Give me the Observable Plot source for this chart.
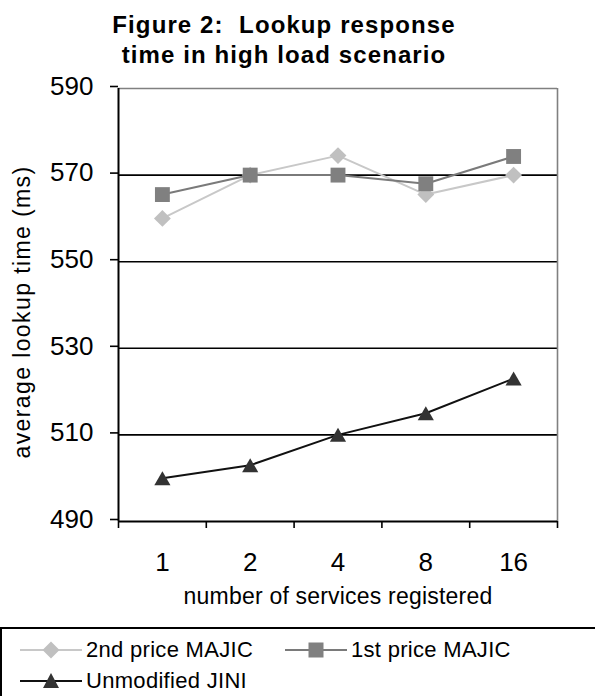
<!DOCTYPE html>
<html>
<head>
<meta charset="utf-8">
<script src="https://cdn.jsdelivr.net/npm/d3@7"></script>
<script src="https://cdn.jsdelivr.net/npm/@observablehq/plot@0.6"></script>
<style>
  html, body { margin: 0; padding: 0; background: #fff; }
  #wrap { position: relative; width: 595px; height: 696px; overflow: hidden; background: #fff;
          font-family: "Liberation Sans", Arial, sans-serif; color: #000; }
  #title { position: absolute; top: 10px; left: 0; width: 568px; text-align: center;
           font-weight: bold; font-size: 24px; line-height: 30px; letter-spacing: 1.1px; white-space: pre; }
  #chart { position: absolute; top: 0; left: 0; }
  #xlabel { position: absolute; top: 583px; left: 0; width: 676px; text-align: center;
            font-size: 23px; line-height: 26px; letter-spacing: 0.2px; white-space: pre; }
  #ylabel { position: absolute; left: 22px; top: 312px; transform: translate(-50%, -50%) rotate(-90deg);
            font-size: 23px; line-height: 26px; letter-spacing: 1.4px; white-space: pre; }
  #legend { position: absolute; top: 627px; left: 0; width: 610px; height: 90px;
            border-top: 2px solid #000; border-left: 2px solid #000; box-sizing: border-box; }
  .entry { position: absolute; display: flex; align-items: center; font-size: 22px; letter-spacing: 0.3px; white-space: pre; }
  .entry svg { margin-right: 4px; }
</style>
</head>
<body>
<div id="wrap">
  <div id="title">Figure 2:  Lookup response
time in high load scenario</div>
  <div id="chart"></div>
  <div id="xlabel"></div>
  <div id="ylabel"></div>
  <div id="legend"></div>
</div>
<script>
// ---- data ----
const services = ["1", "2", "4", "8", "16"];
const secondPrice = [560, 570, 574.5, 565.5, 570];
const firstPrice = [565.5, 570, 570, 568, 574.3];
const unmodifiedJini = [500, 503, 510, 515, 523];
const yTicks = [490, 510, 530, 550, 570, 590];
const seriesNames = ["2nd price MAJIC", "1st price MAJIC", "Unmodified JINI"];
const xTitle = "number of services registered";
const yTitle = "average lookup time (ms)";

const colors = { second: "#c0c0c0", secondLine: "#c8c8c8", first: "#808080", firstLine: "#7a7a7a", jini: "#333333", jiniLine: "#111111" };

const toRows = (vals) => services.map((s, i) => ({ i: i + 0.5, s, v: vals[i] }));
const rows2 = toRows(secondPrice);
const rows1 = toRows(firstPrice);
const rowsJ = toRows(unmodifiedJini);

const chart = Plot.plot({
  width: 595,
  height: 625,
  marginTop: 88,
  marginBottom: 104,
  marginLeft: 118,
  marginRight: 38,
  x: { domain: [0, services.length] },
  y: { domain: [490, 590] },
  style: { fontFamily: "'Liberation Sans', Arial, sans-serif", fontSize: "26px", color: "#000", background: "transparent" },
  marks: [
    Plot.ruleY(yTicks.slice(1, -1), { stroke: "#000", strokeWidth: 1.6 }),
    Plot.ruleY([590], { stroke: "#808080", strokeWidth: 1.6 }),
    Plot.ruleX([services.length], { stroke: "#808080", strokeWidth: 1.6 }),
    Plot.ruleX([0], { stroke: "#000", strokeWidth: 2 }),
    Plot.ruleY([490], { stroke: "#000", strokeWidth: 2 }),
    Plot.axisY({ ticks: yTicks, tickSize: 8, tickPadding: 17, label: null, fontSize: 26, strokeWidth: 1.6, dy: -2 }),
    Plot.axisX({ ticks: d3.range(services.length + 1), tickSize: 7, tickFormat: () => "", label: null, strokeWidth: 1.6 }),
    Plot.axisX({ ticks: services.map((s, i) => i + 0.5), tickSize: 0, tickPadding: 31, tickFormat: (d) => services[Math.floor(d)], label: null, fontSize: 26 }),
    Plot.line(rows2, { x: "i", y: "v", stroke: colors.secondLine, strokeWidth: 2 }),
    Plot.dot(rows2, { x: "i", y: "v", symbol: "diamond2", r: 7.6, fill: colors.second, stroke: "none" }),
    Plot.line(rows1, { x: "i", y: "v", stroke: colors.firstLine, strokeWidth: 2 }),
    Plot.dot(rows1, { x: "i", y: "v", symbol: "square", r: 8.4, fill: colors.first, stroke: "none" }),
    Plot.line(rowsJ, { x: "i", y: "v", stroke: colors.jiniLine, strokeWidth: 2 }),
    Plot.dot(rowsJ, { x: "i", y: "v", symbol: "triangle", r: 6, fill: colors.jini, stroke: "none", dy: 2.3 })
  ]
});
document.getElementById("chart").appendChild(chart);
document.getElementById("xlabel").textContent = xTitle;
document.getElementById("ylabel").textContent = yTitle;

// ---- legend ----
function swatch(kind) {
  const w = 62, h = 22, cy = h / 2;
  let line, marker;
  if (kind === 0) {
    line = `<line x1="0" x2="${w}" y1="${cy}" y2="${cy}" stroke="${colors.secondLine}" stroke-width="2"/>`;
    marker = `<path d="M31,${cy - 8.5}L39.5,${cy}L31,${cy + 8.5}L22.5,${cy}Z" fill="${colors.second}"/>`;
  } else if (kind === 1) {
    line = `<line x1="0" x2="${w}" y1="${cy}" y2="${cy}" stroke="${colors.firstLine}" stroke-width="2"/>`;
    marker = `<rect x="23.5" y="${cy - 7.5}" width="15" height="15" fill="${colors.first}"/>`;
  } else {
    line = `<line x1="0" x2="${w}" y1="${cy}" y2="${cy}" stroke="${colors.jiniLine}" stroke-width="2"/>`;
    marker = `<path d="M31,${cy - 8}L39,${cy + 7}L23,${cy + 7}Z" fill="${colors.jini}"/>`;
  }
  return `<svg width="${w}" height="${h}">${line}${marker}</svg>`;
}
const legendPos = [ { left: 18, top: 8 }, { left: 283, top: 8 }, { left: 18, top: 39 } ];
const legend = document.getElementById("legend");
seriesNames.forEach((name, k) => {
  const e = document.createElement("div");
  e.className = "entry";
  e.style.left = legendPos[k].left + "px";
  e.style.top = legendPos[k].top + "px";
  e.innerHTML = swatch(k) + `<span>${name}</span>`;
  legend.appendChild(e);
});
</script>
</body>
</html>
